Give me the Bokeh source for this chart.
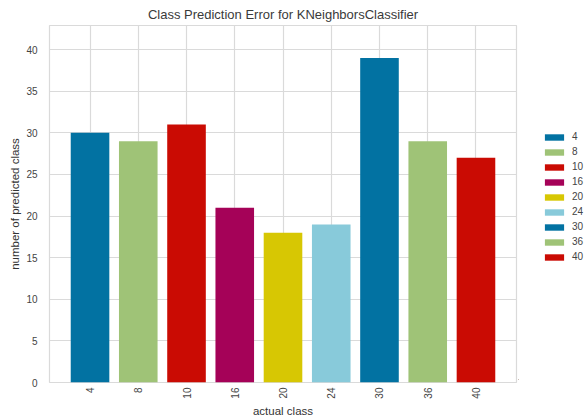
from bokeh.plotting import figure
from bokeh.models import ColumnDataSource, Range1d, FixedTicker, Legend, LegendItem
from bokeh.layouts import row
from bokeh.embed import file_html
from bokeh.resources import INLINE

classes = ["4", "8", "10", "16", "20", "24", "30", "36", "40"]
counts = [30, 29, 31, 21, 18, 19, 39, 29, 27]
colors = ["#0272a2", "#9fc377", "#ca0b03", "#a50258", "#d7c703",
          "#88cada", "#0272a2", "#9fc377", "#ca0b03"]
y_ticks = [0, 5, 10, 15, 20, 25, 30, 35, 40]

FONT = "Liberation Sans"
pos = list(range(len(classes)))
src = ColumnDataSource(dict(x=pos, top=counts, color=colors, label=classes))

p = figure(frame_width=467, frame_height=357,
           min_border_left=49, min_border_right=2,
           min_border_top=23, min_border_bottom=36,
           x_range=Range1d(-0.84, 8.84), y_range=Range1d(0, 42.9),
           output_backend="svg", toolbar_location=None,
           title="Class Prediction Error for KNeighborsClassifier")

r = p.vbar(x="x", top="top", width=0.8, bottom=0, source=src,
           fill_color="color", line_color=None)

p.title.align = "center"
p.title.text_font = FONT
p.title.text_font_size = "13px"
p.title.text_font_style = "normal"
p.title.text_color = "#3a3a3a"
p.title.standoff = 8
p.title.offset = 0

p.xaxis.ticker = FixedTicker(ticks=pos)
p.xaxis.major_label_overrides = {i: c for i, c in zip(pos, classes)}
p.xaxis.major_label_orientation = 1.5708
p.yaxis.ticker = FixedTicker(ticks=y_ticks)

for ax in (p.xaxis[0], p.yaxis[0]):
    ax.axis_line_color = None
    ax.major_tick_line_color = None
    ax.minor_tick_line_color = None
    ax.major_tick_out = 0
    ax.major_tick_in = 0
    ax.major_label_text_font = FONT
    ax.major_label_text_font_size = "10px"
    ax.major_label_text_color = "#444444"
    ax.axis_label_text_font = FONT
    ax.axis_label_text_font_size = "11.5px"
    ax.axis_label_text_font_style = "normal"
    ax.axis_label_text_color = "#333333"
p.xaxis.axis_label = "actual class"
p.yaxis.axis_label = "number of predicted class"
p.xaxis.major_label_standoff = 5
p.yaxis.major_label_standoff = 12
p.xaxis.axis_label_standoff = 3
p.yaxis.axis_label_standoff = 2

p.xgrid.grid_line_color = "#dadada"
p.ygrid.grid_line_color = "#dadada"
p.xgrid.grid_line_width = 1.2
p.ygrid.grid_line_width = 1.2
p.outline_line_color = "#dadada"
p.outline_line_width = 1.2
p.background_fill_color = "white"
p.border_fill_color = "white"

# legend panel as a separate narrow figure; its glyphs are kept out of view
lf = figure(width=68, height=416, min_border=0,
            x_range=Range1d(1000, 1068), y_range=Range1d(1000, 1416),
            output_backend="svg", toolbar_location=None)
lf.axis.visible = False
lf.grid.visible = False
lf.outline_line_color = None
lf.background_fill_color = "white"
lf.border_fill_color = "white"
lr = lf.vbar(x="x", top="top", width=0.8, bottom=0, source=src,
             fill_color="color", line_color=None)

legend = Legend(items=[LegendItem(label=c, renderers=[lr], index=i)
                       for i, c in enumerate(classes)],
                location=(24, 115))
legend.glyph_width = 24
legend.glyph_height = 8
legend.label_height = 15
legend.spacing = 0
legend.padding = 0
legend.margin = 0
legend.label_standoff = 6
legend.border_line_alpha = 0
legend.background_fill_alpha = 0
legend.label_text_font = FONT
legend.label_text_font_size = "10px"
legend.label_text_color = "#444444"
lf.add_layout(legend, "center")

layout = row(p, lf, spacing=0)
open("out.html", "w").write(file_html(layout, INLINE))
